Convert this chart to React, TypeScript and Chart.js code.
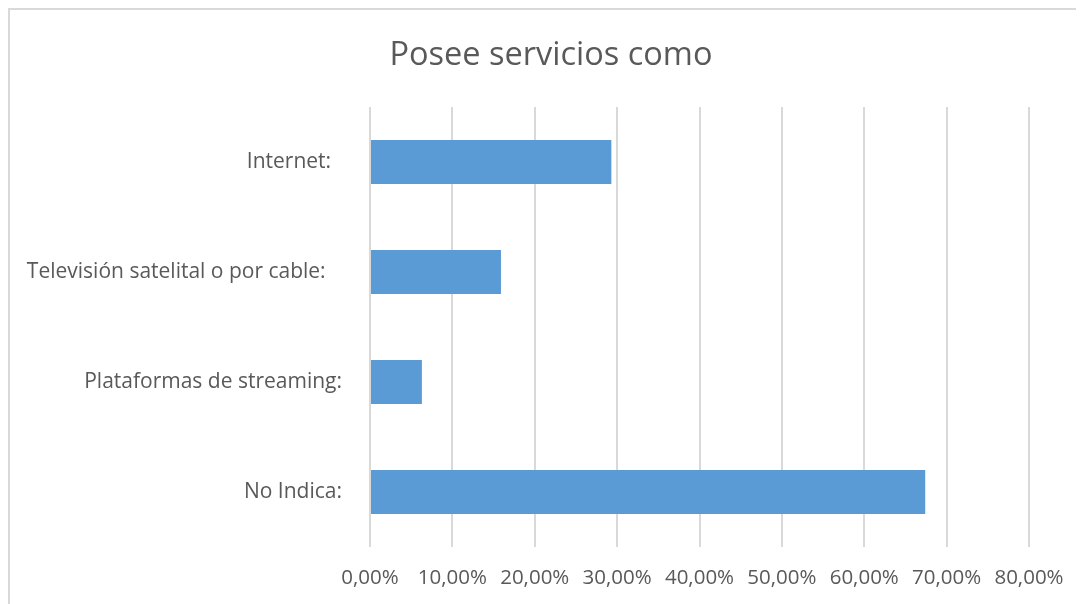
import React, { useEffect, useRef } from "react";
import { Chart, registerables } from "chart.js";

Chart.register(...registerables);

const categories = [
  "Internet:  ",
  "Televisión satelital o por cable:   ",
  "Plataformas de streaming:",
  "No Indica:",
];
const values = [29.3, 15.9, 6.3, 67.4];
const xTicks = [0, 10, 20, 30, 40, 50, 60, 70, 80];
const titleText = "Posee servicios como";

const FONT = "'Open Sans', 'Noto Sans', sans-serif";
const TEXT = "#595959";

const titlePlugin = {
  id: "centerTitle",
  afterDraw(chart: any) {
    const ctx = chart.ctx;
    ctx.save();
    ctx.fillStyle = TEXT;
    ctx.font = `normal 32.5px ${FONT}`;
    ctx.textAlign = "center";
    ctx.textBaseline = "alphabetic";
    ctx.fillText(titleText, chart.width / 2 + 4, 55);
    ctx.restore();
  },
};

export default function App() {
  const ref = useRef<HTMLCanvasElement | null>(null);

  useEffect(() => {
    if (!ref.current) return;
    const chart = new Chart(ref.current, {
      type: "bar",
      data: {
        labels: categories,
        datasets: [
          {
            data: values,
            backgroundColor: "#5b9bd5",
            borderWidth: 0,
            barPercentage: 0.4,
            categoryPercentage: 1,
          },
        ],
      },
      options: {
        indexAxis: "y",
        responsive: false,
        animation: false,
        layout: { padding: { top: 97, right: 55, bottom: 0, left: 0 } },
        plugins: {
          legend: { display: false },
          tooltip: { enabled: false },
          title: { display: false },
        },
        scales: {
          x: {
            min: 0,
            max: 80,
            afterBuildTicks: (scale: any) => {
              scale.ticks = xTicks.map((v) => ({ value: v }));
            },
            afterFit: (scale: any) => {
              scale.height = 57;
            },
            ticks: {
              color: TEXT,
              font: { family: FONT, size: 20.5, lineHeight: 1.2 },
              padding: 19,
              maxRotation: 0,
              autoSkip: false,
              callback: (v: any) => Number(v).toFixed(2).replace(".", ",") + "%",
            },
            grid: { color: "#d9d9d9", lineWidth: 2, drawTicks: false },
            border: { display: false },
          },
          y: {
            afterFit: (scale: any) => {
              scale.width = 360;
            },
            ticks: {
              color: TEXT,
              font: { family: FONT, size: 21 },
              padding: 28,
            },
            grid: { display: false, drawTicks: false },
            border: { display: false },
          },
        },
      },
      plugins: [titlePlugin],
    });
    return () => chart.destroy();
  }, []);

  return (
    <div
      style={{
        width: 1076,
        height: 596,
        borderLeft: "2px solid #d9d9d9",
        borderTop: "2px solid #d9d9d9",
        overflow: "hidden",
        background: "#fff",
      }}
    >
      <canvas ref={ref} width={1074} height={594} style={{ display: "block" }} />
    </div>
  );
}
